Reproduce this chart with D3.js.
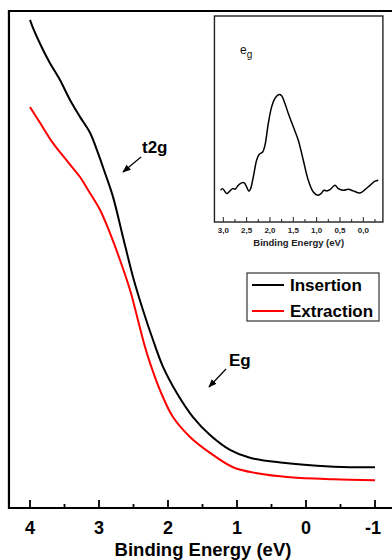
<!DOCTYPE html>
<html>
<head>
<meta charset="utf-8">
<script src="https://cdn.jsdelivr.net/npm/d3@7"></script>
<style>
  body { margin: 0; background: #fff; }
  svg { display: block; font-family: "Liberation Sans", Arial, sans-serif; }
</style>
</head>
<body>
<div id="chart"></div>
<script>
// main spectra: binding energy (eV) and intensity (arb. units)
let insertionE = [4.0, 3.957, 3.812, 3.71, 3.565, 3.42, 3.275, 3.13, 3.014, 2.913, 2.797, 2.652, 2.507, 2.362, 2.217, 2.072, 1.87, 1.638, 1.391, 1.101, 0.812, 0.333, -0.159, -0.638, -1.0];
let insertionI = [98.2, 96.6, 92.2, 89.5, 86.1, 82.1, 78.7, 75.5, 71.4, 67.4, 62.6, 54.5, 46.5, 39.8, 33.8, 28.4, 23.1, 18.3, 14.7, 11.7, 10.1, 9.1, 8.5, 8.2, 8.2];
let extractionE = [4.0, 3.855, 3.667, 3.449, 3.275, 3.159, 2.986, 2.841, 2.696, 2.551, 2.435, 2.333, 2.261, 2.116, 1.928, 1.681, 1.391, 1.058, 0.71, 0.232, -0.391, -1.0];
let extractionI = [80.7, 77.5, 73.4, 69.6, 66.6, 64.0, 60.0, 55.3, 49.9, 43.9, 37.8, 32.4, 29.2, 23.7, 18.3, 14.3, 11.1, 8.2, 7.0, 6.2, 5.8, 5.6];
let mainTicks = [4, 3, 2, 1, 0, -1];

// inset: e_g difference spectrum
let insetE = [3.057, 3.014, 2.929, 2.857, 2.8, 2.75, 2.679, 2.607, 2.55, 2.5, 2.45, 2.414, 2.357, 2.286, 2.229, 2.157, 2.107, 2.036, 1.964, 1.893, 1.807, 1.75, 1.679, 1.607, 1.5, 1.393, 1.286, 1.179, 1.071, 0.964, 0.893, 0.843, 0.786, 0.714, 0.607, 0.536, 0.429, 0.321, 0.214, 0.071, -0.036, -0.143, -0.25, -0.321];
let insetI = [15.4, 16.2, 13.8, 15.1, 16.2, 15.9, 17.8, 19.0, 19.0, 17.0, 14.9, 16.2, 21.9, 30.0, 32.9, 34.0, 37.3, 47.8, 55.9, 60.0, 61.9, 61.3, 57.5, 52.7, 46.2, 39.7, 30.0, 20.3, 14.6, 13.0, 14.1, 15.4, 15.1, 15.7, 17.8, 16.2, 15.4, 15.9, 15.1, 14.1, 15.7, 17.8, 19.8, 20.3];
let insetTicks = [3.0, 2.5, 2.0, 1.5, 1.0, 0.5, 0.0];

let series = [
  {name: "Insertion", color: "#000", e: insertionE, v: insertionI},
  {name: "Extraction", color: "#f00", e: extractionE, v: extractionI}
];

let W = 392, H = 560;
let svg = d3.select("#chart").append("svg").attr("width", W).attr("height", H);

// main scales
let x = d3.scaleLinear().domain([4, -1]).range([30, 375]);
let y = d3.scaleLinear().domain([0, 100]).range([508, 11]);
let fLeft = x(4.305), fRight = x(-1.3), fTop = y(100), fBottom = y(0);

// frame: left, top, bottom (right edge runs off the picture)
svg.append("path")
  .attr("d", "M" + fRight + "," + fTop + "H" + fLeft + "V" + fBottom + "H" + fRight)
  .attr("fill", "none").attr("stroke", "#000").attr("stroke-width", 2.2);

// ticks pointing inward
let minor = d3.range(4, -1.01, -0.5);
svg.append("g").selectAll("line").data(minor).enter().append("line")
  .attr("x1", d => x(d)).attr("x2", d => x(d))
  .attr("y1", fBottom).attr("y2", d => fBottom - (Number.isInteger(d) ? 8 : 4))
  .attr("stroke", "#000").attr("stroke-width", 1.8);

svg.append("g").selectAll("text").data(mainTicks).enter().append("text")
  .attr("x", d => x(d) + (d < 0 ? -2 : 0)).attr("y", 534)
  .attr("text-anchor", "middle").attr("font-size", 18).attr("font-weight", "bold")
  .text(d => d);

svg.append("text").attr("x", 203).attr("y", 556).attr("text-anchor", "middle")
  .attr("font-size", 18.5).attr("font-weight", "bold").text("Binding Energy (eV)");

let line = d3.line().x(d => x(d[0])).y(d => y(d[1])).curve(d3.curveCatmullRom);
series.forEach(s => {
  svg.append("path").datum(s.e.map((e, i) => [e, s.v[i]]))
    .attr("d", line).attr("fill", "none").attr("stroke", s.color).attr("stroke-width", 2);
});

// annotations
svg.append("defs").append("marker").attr("id", "ah")
  .attr("viewBox", "0 0 10 10").attr("refX", 9).attr("refY", 5)
  .attr("markerWidth", 7).attr("markerHeight", 7).attr("orient", "auto")
  .append("path").attr("d", "M0,1L10,5L0,9z").attr("fill", "#000");

function note(txt, tx, ty, ax1, ay1, ax2, ay2) {
  svg.append("text").attr("x", tx).attr("y", ty).attr("font-size", 17)
    .attr("font-weight", "bold").text(txt);
  svg.append("line").attr("x1", ax1).attr("y1", ay1).attr("x2", ax2).attr("y2", ay2)
    .attr("stroke", "#000").attr("stroke-width", 1.2).attr("marker-end", "url(#ah)");
}
note("t2g", 142, 153, 141, 157, 123, 172);
note("Eg", 229, 366, 226, 369, 209, 387);

// legend
let lg = svg.append("g").attr("transform", "translate(247,273)");
lg.append("rect").attr("width", 132).attr("height", 48).attr("fill", "#fff")
  .attr("stroke", "#333").attr("stroke-width", 1.2);
series.forEach((s, i) => {
  let yy = 12 + i * 26;
  lg.append("line").attr("x1", 5).attr("x2", 37).attr("y1", yy).attr("y2", yy)
    .attr("stroke", s.color).attr("stroke-width", 2);
  lg.append("text").attr("x", 43).attr("y", yy + 6).attr("font-size", 17)
    .attr("font-weight", "bold").text(s.name);
});

// inset
let ix = d3.scaleLinear().domain([3.0, 0.0]).range([223.3, 363.3]);
let iy = d3.scaleLinear().domain([0, 100]).range([222, 16]);
let il = ix(3.19), ir = ix(-0.42), it = iy(100), ib = iy(0);
svg.append("rect").attr("x", il).attr("y", it).attr("width", ir - il).attr("height", ib - it)
  .attr("fill", "#fff").attr("stroke", "#222").attr("stroke-width", 1.4);

let iminor = d3.range(3.0, -0.3, -0.25);
svg.append("g").selectAll("line").data(iminor).enter().append("line")
  .attr("x1", d => ix(d)).attr("x2", d => ix(d))
  .attr("y1", ib).attr("y2", (d, i) => ib - (i % 2 === 0 ? 5 : 3))
  .attr("stroke", "#222").attr("stroke-width", 1);

svg.append("g").selectAll("text").data(insetTicks).enter().append("text")
  .attr("x", d => ix(d)).attr("y", 233).attr("text-anchor", "middle")
  .attr("font-size", 8).attr("font-weight", "bold").attr("fill", "#222")
  .text(d => d.toFixed(1).replace(".", ","));

svg.append("text").attr("x", (il + ir) / 2).attr("y", 246).attr("text-anchor", "middle")
  .attr("font-size", 9.5).attr("font-weight", "bold").attr("fill", "#222")
  .text("Binding Energy (eV)");

let iline = d3.line().x(d => ix(d[0])).y(d => iy(d[1])).curve(d3.curveCatmullRom);
svg.append("path").datum(insetE.map((e, i) => [e, insetI[i]]))
  .attr("d", iline).attr("fill", "none").attr("stroke", "#000").attr("stroke-width", 1.5);

let eg = svg.append("text").attr("x", 240).attr("y", 54).attr("font-size", 12).attr("fill", "#111");
eg.append("tspan").text("e");
eg.append("tspan").attr("font-size", 10).attr("dy", 4).text("g");
</script>
</body>
</html>
